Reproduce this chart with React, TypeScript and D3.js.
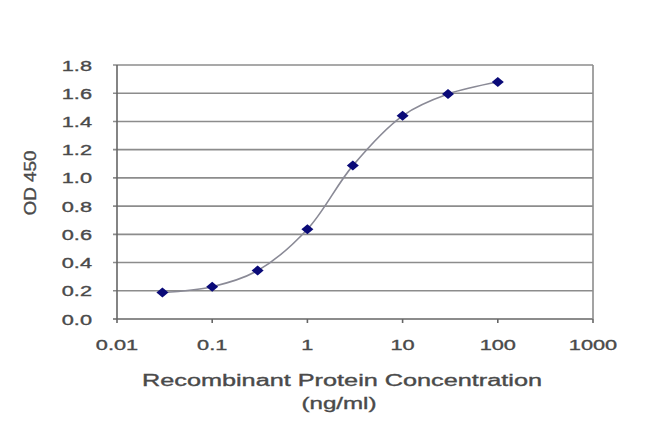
import React from "react";
import * as d3 from "d3";

const concentrations = [0.03, 0.1, 0.3, 1, 3, 10, 30, 100];
const odValues = [0.187, 0.229, 0.343, 0.636, 1.087, 1.44, 1.594, 1.679];
const yTicks = [0, 0.2, 0.4, 0.6, 0.8, 1.0, 1.2, 1.4, 1.6, 1.8];
const xTicks = [0.01, 0.1, 1, 10, 100, 1000];
const xTickLabels = ["0.01", "0.1", "1", "10", "100", "1000"];
const yTitle = "OD 450";
const xTitle1 = "Recombinant Protein Concentration";
const xTitle2 = "(ng/ml)";

const W = 650;
const H = 434;
const left = 117;
const right = 593;
const top = 65;
const bottom = 319;

export default function App() {
  const x = d3.scaleLog().domain([0.01, 1000]).range([left, right]);
  const y = d3.scaleLinear().domain([0, 1.8]).range([bottom, top]);
  const pts: [number, number][] = concentrations.map((c, i) => [x(c), y(odValues[i])]);
  const line = d3.line().curve(d3.curveCatmullRom.alpha(0.5))(pts) || "";
  const textColor = "#4a4a4a";
  const gridColor = "#8c8c8c";
  const font = "Arial, 'Liberation Sans', sans-serif";
  const sx = 1.45;
  const textStroke = { stroke: textColor, strokeWidth: 0.35 };
  return (
    <svg
      width={W}
      height={H}
      style={{ position: "absolute", left: 0, top: 0, background: "#fff" }}
      fontFamily={font}
    >
      <rect x={0} y={0} width={W} height={H} fill="#fff" />
      {yTicks.map((t) => (
        <line
          key={"g" + t}
          x1={left - 4}
          x2={right}
          y1={y(t)}
          y2={y(t)}
          stroke={t === 0 ? "#666" : gridColor}
          strokeWidth={1.6}
        />
      ))}
      <line x1={right} x2={right} y1={top} y2={bottom} stroke={gridColor} strokeWidth={1.6} />
      <line x1={left} x2={left} y1={top} y2={bottom} stroke="#666" strokeWidth={1.6} />
      {xTicks.map((t) => (
        <line key={"xt" + t} x1={x(t)} x2={x(t)} y1={bottom} y2={bottom + 4} stroke="#666" strokeWidth={1.6} />
      ))}
      {yTicks.map((t) => (
        <text
          key={"yl" + t}
          transform={`translate(${left - 25},${y(t) + 5.5}) scale(${sx},1)`}
          textAnchor="end"
          fontSize={15}
          fill={textColor}
          {...textStroke}
        >
          {t.toFixed(1)}
        </text>
      ))}
      {xTicks.map((t, i) => (
        <text
          key={"xl" + t}
          transform={`translate(${x(t)},${350}) scale(${sx},1)`}
          textAnchor="middle"
          fontSize={15}
          fill={textColor}
          {...textStroke}
        >
          {xTickLabels[i]}
        </text>
      ))}
      <path d={line} fill="none" stroke="#8a8a96" strokeWidth={1.6} />
      {pts.map(([px, py], i) => (
        <path
          key={"m" + i}
          d={`M${px},${py - 5}L${px + 6},${py}L${px},${py + 5}L${px - 6},${py}Z`}
          fill="#0a0a78"
        />
      ))}
      <text
        transform={`translate(${36},${183}) rotate(-90)`}
        textAnchor="middle"
        fontSize={16}
        fill={textColor}
        textLength={65}
        lengthAdjust="spacingAndGlyphs"
        {...textStroke}
      >
        {yTitle}
      </text>
      <text
        x={342}
        y={386}
        textAnchor="middle"
        fontSize={16}
        fill={textColor}
        textLength={400}
        lengthAdjust="spacingAndGlyphs"
        {...textStroke}
      >
        {xTitle1}
      </text>
      <text
        x={339}
        y={409}
        textAnchor="middle"
        fontSize={16}
        fill={textColor}
        textLength={75}
        lengthAdjust="spacingAndGlyphs"
        {...textStroke}
      >
        {xTitle2}
      </text>
    </svg>
  );
}
